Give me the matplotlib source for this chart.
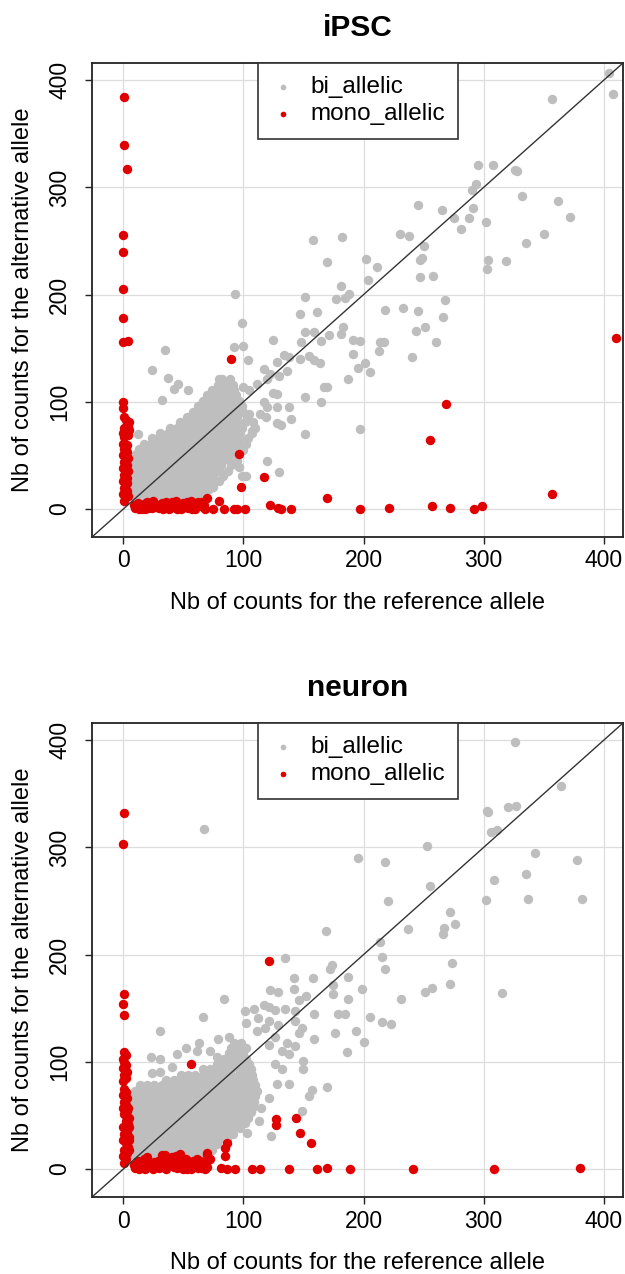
import numpy as np
import matplotlib.pyplot as plt

plt.rcParams['font.family'] = ['Liberation Sans', 'DejaVu Sans']

GREY = '#BEBEBE'
RED = '#E00000'
TICKS = [0, 100, 200, 300, 400]
LIMS = (-26, 416)

# ---------------- iPSC ----------------
# scattered bi-allelic points (ref, alt)
ipsc_bi_pts = [
    (404, 407), (408, 387), (357, 382), (295, 321), (308, 321), (326, 316), (328, 315),
    (290, 298), (294, 303), (332, 292), (362, 287), (245, 284), (265, 279), (291, 281),
    (288, 271), (275, 271), (302, 268), (372, 272), (281, 261), (230, 257), (238, 255),
    (182, 254), (158, 251), (350, 257), (335, 248), (250, 245), (170, 230), (202, 233),
    (211, 226), (247, 232), (249, 234), (304, 232), (319, 231), (303, 224), (204, 214),
    (247, 216), (258, 217), (181, 208), (93, 201), (151, 198), (177, 196), (188, 201),
    (185, 197), (268, 195), (218, 186), (233, 188), (245, 185), (266, 179), (147, 182),
    (161, 184), (99, 174), (183, 170), (251, 170), (151, 165), (159, 165), (171, 162),
    (181, 163), (244, 166), (125, 158), (148, 156), (165, 157), (191, 158), (197, 157),
    (260, 156), (214, 156), (217, 156), (35, 148), (92, 151), (100, 152), (134, 144),
    (138, 142), (147, 140), (155, 143), (159, 139), (164, 136), (191, 145), (213, 147),
    (240, 142), (128, 137), (104, 139), (201, 136), (195, 132), (205, 128), (24, 130),
    (117, 131), (122, 126), (136, 129), (120, 121), (130, 124), (187, 121), (37, 122),
    (42, 112), (46, 117), (54, 111), (80, 121), (170, 114), (167, 114), (125, 108),
    (128, 107), (151, 105), (165, 100), (32, 102), (100, 114), (105, 111), (111, 117),
    (117, 100), (120, 95), (128, 95), (138, 95), (140, 84), (119, 86), (197, 75),
    (128, 80), (131, 78), (151, 70), (107, 73), (114, 89), (105, 89), (98, 60),
    (100, 55), (95, 45), (96, 39), (120, 45), (130, 35), (99, 31), (102, 31), (71, 19),
    (57, 25), (66, 24), (12, 70),
]
# saturated centre of the cloud, read row by row: alt value -> ref values
ipsc_bi_rows = {
    11: [9, 15, 21, 27, 33, 39, 45, 51, 57, 63],
    16: [8, 14, 20, 26, 32, 38, 44, 50, 56, 62, 68],
    21: [9, 15, 21, 27, 33, 39, 45, 51, 57, 63, 69, 75],
    26: [8, 13, 19, 25, 31, 37, 43, 49, 55, 61, 67, 73, 80],
    31: [9, 15, 21, 27, 33, 39, 45, 51, 57, 63, 69, 75, 83],
    36: [8, 14, 20, 26, 32, 38, 44, 50, 56, 62, 68, 74, 80, 87],
    41: [9, 15, 21, 27, 33, 39, 45, 51, 57, 63, 69, 75, 81, 90],
    46: [10, 16, 22, 28, 34, 40, 46, 52, 58, 64, 70, 76, 82, 88],
    51: [11, 17, 23, 29, 35, 41, 47, 53, 59, 65, 71, 77, 83, 89, 95],
    56: [13, 19, 25, 31, 37, 43, 49, 55, 61, 67, 73, 79, 85, 91, 98],
    61: [17, 23, 29, 35, 41, 47, 53, 59, 65, 71, 77, 83, 89, 95, 102],
    66: [24, 30, 36, 42, 48, 54, 60, 66, 72, 78, 84, 90, 96, 104],
    71: [31, 37, 43, 49, 55, 61, 67, 73, 79, 85, 91, 97, 107],
    76: [39, 45, 51, 57, 63, 69, 75, 81, 87, 93, 99, 110],
    81: [47, 53, 59, 65, 71, 77, 83, 89, 95, 101, 108],
    86: [53, 59, 65, 71, 77, 83, 89, 95, 103],
    91: [58, 64, 70, 76, 82, 88, 94, 100],
    96: [62, 68, 74, 80, 86, 92, 99],
    101: [66, 72, 78, 84, 90, 96],
    106: [70, 76, 82, 88, 94],
    111: [74, 80, 86, 92],
    116: [79, 85, 91],
    121: [82, 89],
}
ipsc_mono_pts = [
    # alt-only column
    (1, 8), (2, 11), (0, 14), (3, 17), (1, 20), (2, 23), (0, 26), (3, 29), (1, 32),
    (2, 35), (0, 38), (3, 41), (1, 44), (2, 47), (0, 50), (3, 53), (1, 56), (2, 59),
    (0, 61), (1, 67), (4, 69), (2, 72), (5, 74), (1, 76), (3, 79), (5, 81), (2, 83),
    (1, 86), (0, 94), (0, 100), (0, 156), (4, 157), (0, 178), (0, 205), (0, 240),
    (0, 256), (3, 317), (1, 340), (1, 384), (4, 12), (3, 24), (4, 36), (4, 48),
    (3, 60), (0, 71), (4, 77),
    # ref-only row
    (10, 1), (14, 3), (18, 0), (22, 2), (26, 5), (30, 1), (34, 3), (38, 0), (42, 4),
    (46, 2), (50, 6), (54, 1), (58, 3), (62, 7), (66, 2), (12, 6), (20, 7), (28, 2),
    (36, 7), (44, 8), (52, 4), (60, 0), (16, 0), (24, 1), (32, 6), (40, 2), (48, 0),
    (56, 8), (64, 5), (68, 0), (9, 4), (13, 0), (17, 5), (21, 1), (25, 8), (29, 4),
    (33, 0), (37, 3), (41, 7), (45, 0), (49, 3), (53, 7), (57, 0), (61, 3), (65, 7),
    (67, 4), (70, 10), (80, 8), (75, 0), (84, 0), (92, 0), (95, 0),
    (101, 0), (122, 4), (129, 1), (131, 0), (140, 0), (170, 10), (197, 0), (221, 1),
    (257, 3), (272, 1), (292, 0), (299, 3), (357, 14),
    # others
    (90, 140), (96, 51), (98, 21), (117, 30), (269, 98), (255, 64), (410, 160),
]

# ---------------- neuron ----------------
neuron_bi_pts = [
    (326, 398), (364, 357), (303, 334), (304, 333), (320, 338), (327, 339), (306, 314),
    (311, 316), (67, 317), (253, 301), (343, 295), (195, 290), (218, 286), (378, 288),
    (335, 275), (309, 270), (255, 264), (220, 250), (302, 251), (337, 252), (382, 252),
    (272, 240), (169, 222), (237, 224), (267, 225), (276, 229), (266, 219), (214, 212),
    (215, 198), (135, 197), (218, 187), (274, 192), (174, 190), (172, 187), (272, 173),
    (315, 164), (142, 178), (158, 178), (187, 179), (175, 172), (199, 168), (251, 165),
    (257, 169), (231, 159), (84, 159), (122, 167), (129, 165), (142, 168), (146, 158),
    (152, 161), (175, 163), (187, 159), (205, 142), (215, 137), (223, 135), (179, 145),
    (185, 145), (159, 145), (101, 147), (109, 149), (117, 153), (121, 151), (126, 148),
    (135, 149), (143, 147), (66, 142), (102, 136), (112, 141), (121, 138), (129, 134),
    (143, 138), (149, 132), (159, 121), (146, 127), (176, 127), (194, 129), (200, 119),
    (186, 109), (111, 129), (118, 132), (126, 123), (136, 118), (143, 115), (121, 116),
    (132, 110), (138, 107), (150, 101), (150, 93), (126, 98), (132, 93), (138, 79),
    (128, 79), (157, 74), (155, 68), (170, 77), (121, 66), (115, 57), (149, 54),
    (31, 129), (23, 105), (31, 103), (45, 107), (52, 113), (63, 118), (61, 110),
    (72, 110), (78, 105), (88, 123), (79, 121), (24, 90), (31, 91), (41, 95), (49, 87),
    (123, 31), (113, 45), (103, 34),
]
neuron_bi_rows = {
    13: [9, 15, 21, 27, 33, 39, 45, 51, 57, 63, 69],
    18: [8, 14, 20, 26, 32, 38, 44, 50, 56, 62, 68, 74],
    23: [7, 12, 18, 24, 30, 36, 42, 48, 54, 60, 66, 72, 78],
    28: [8, 14, 20, 26, 32, 38, 44, 50, 56, 62, 68, 74, 80, 86],
    33: [7, 12, 18, 24, 30, 36, 42, 48, 54, 60, 66, 72, 78, 84, 91],
    38: [8, 14, 20, 26, 32, 38, 44, 50, 56, 62, 68, 74, 80, 86, 92, 97],
    43: [7, 12, 18, 24, 30, 36, 42, 48, 54, 60, 66, 72, 78, 84, 90, 96, 101],
    48: [8, 14, 20, 26, 32, 38, 44, 50, 56, 62, 68, 74, 80, 86, 92, 98, 104],
    53: [7, 12, 18, 24, 30, 36, 42, 48, 54, 60, 66, 72, 78, 84, 90, 96, 102, 106],
    58: [8, 14, 20, 26, 32, 38, 44, 50, 56, 62, 68, 74, 80, 86, 92, 98, 104, 108],
    63: [7, 12, 18, 24, 30, 36, 42, 48, 54, 60, 66, 72, 78, 84, 90, 96, 102, 109],
    68: [8, 14, 20, 26, 32, 38, 44, 50, 56, 62, 68, 74, 80, 86, 92, 98, 104, 110],
    73: [10, 16, 22, 28, 34, 40, 46, 52, 58, 64, 70, 76, 82, 88, 94, 100, 106, 111],
    78: [14, 20, 26, 32, 38, 44, 50, 56, 62, 68, 74, 80, 86, 92, 98, 104, 110],
    83: [36, 42, 48, 54, 60, 66, 72, 78, 84, 90, 96, 102, 108],
    88: [48, 54, 60, 66, 72, 78, 84, 90, 96, 102, 107],
    93: [66, 72, 78, 84, 90, 96, 102, 106],
    98: [78, 84, 90, 96, 102, 105],
    103: [84, 90, 96, 102],
    108: [88, 94, 100],
    113: [90, 96, 102],
    118: [92, 98],
}
neuron_mono_pts = [
    (1, 6), (2, 9), (0, 12), (3, 15), (1, 18), (4, 21), (2, 24), (0, 27), (5, 30),
    (1, 33), (3, 36), (0, 39), (4, 42), (2, 45), (5, 48), (1, 51), (3, 54), (0, 57),
    (2, 60), (1, 63), (3, 66), (0, 69), (2, 72), (1, 75), (0, 82), (2, 85), (1, 88),
    (3, 91), (0, 94), (2, 97), (1, 100), (0, 103), (2, 106), (1, 109), (1, 144),
    (0, 154), (1, 163), (1, 332), (0, 303), (5, 18), (5, 27), (5, 39), (4, 57),
    (10, 1), (14, 4), (18, 0), (22, 3), (26, 7), (30, 1), (34, 5), (38, 10), (42, 2),
    (46, 6), (50, 0), (54, 4), (58, 8), (62, 1), (66, 5), (70, 2), (72, 9), (12, 8),
    (20, 11), (28, 3), (36, 0), (44, 12), (52, 9), (60, 4), (68, 0), (16, 6), (24, 2),
    (32, 13), (40, 6), (48, 10), (56, 0), (64, 8), (70, 13), (70, 15),
    (9, 4), (13, 0), (17, 9), (21, 6), (25, 0), (29, 8), (33, 2), (37, 6), (41, 11),
    (45, 1), (49, 5), (53, 0), (57, 4), (61, 9), (65, 1), (69, 6), (35, 13), (47, 14),
    (81, 1), (85, 20), (85, 12), (86, 24), (86, 0), (93, 0), (107, 0), (114, 0),
    (138, 0), (161, 0), (170, 1), (189, 0), (241, 0), (309, 0), (380, 1),
    (121, 194), (56, 98), (127, 47), (127, 41), (144, 48), (147, 34), (156, 24),
]


def expand(pts, rows):
    xs = [p[0] for p in pts]
    ys = [p[1] for p in pts]
    for y, row in rows.items():
        xs += row
        ys += [y] * len(row)
    return np.array(xs), np.array(ys)


def draw_panel(ax, bi_pts, bi_rows, mono_pts):
    bx, by = expand(bi_pts, bi_rows)
    mx, my = expand(mono_pts, {})
    ax.set_xlim(LIMS)
    ax.set_ylim(LIMS)
    ax.set_xticks(TICKS)
    ax.set_yticks(TICKS)
    ax.grid(True, color='#DDDDDD', linewidth=0.9)
    ax.set_axisbelow(True)
    ax.scatter(bx, by, s=46, color=GREY, linewidths=0, label='bi_allelic', zorder=2)
    ax.scatter(mx, my, s=46, color=RED, linewidths=0, label='mono_allelic', zorder=3)
    ax.axline((0, 0), slope=1, color='#333333', linewidth=1.0, zorder=4)
    ax.tick_params(length=5, width=1, labelsize=16.5, color='#222222')
    ax.tick_params(axis='x', pad=4)
    ax.tick_params(axis='y', pad=10)
    for lbl in ax.get_yticklabels():
        lbl.set_rotation(90)
        lbl.set_verticalalignment('center')
    for s in ax.spines.values():
        s.set_linewidth(1.3)
        s.set_color('#222222')
    leg = ax.legend(loc='upper center', bbox_to_anchor=(0.501, 1.0), borderaxespad=0,
                    fontsize=17.5, markerscale=0.6, handletextpad=0.6, handlelength=1.0,
                    borderpad=0.55, labelspacing=0.2, fancybox=False, framealpha=1,
                    edgecolor='#333333')
    leg.get_frame().set_linewidth(1.2)


fig = plt.figure(figsize=(6.25, 12.74), dpi=100)
W, H = 625, 1274
panels = [
    ('iPSC', 63, ipsc_bi_pts, ipsc_bi_rows, ipsc_mono_pts),
    ('neuron', 723, neuron_bi_pts, neuron_bi_rows, neuron_mono_pts),
]
for title, top, bi_pts, bi_rows, mono_pts in panels:
    ax = fig.add_axes([92 / W, 1 - (top + 474) / H, 531 / W, 474 / H])
    draw_panel(ax, bi_pts, bi_rows, mono_pts)
    fig.text(357.5 / W, 1 - (top - 35) / H, title, ha='center', va='center',
             fontsize=21.5, fontweight='bold')
    fig.text(357.5 / W, 1 - (top + 474 + 66) / H, 'Nb of counts for the reference allele',
             ha='center', va='center', fontsize=17)
    fig.text(23 / W, 1 - (top + 237) / H, 'Nb of counts for the alternative allele',
             ha='center', va='center', rotation=90, fontsize=17)

fig.savefig('out.png', dpi=100)
